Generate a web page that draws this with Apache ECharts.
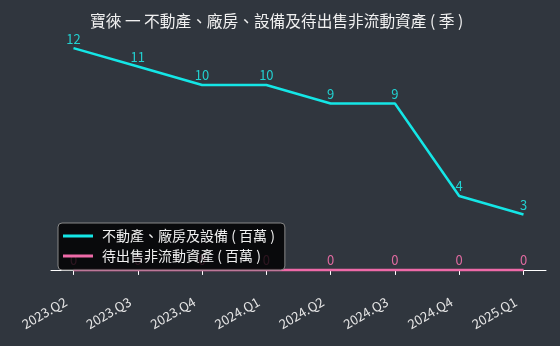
<!DOCTYPE html>
<html>
<head>
<meta charset="utf-8">
<script src="https://cdn.jsdelivr.net/npm/echarts@6/dist/echarts.min.js"></script>
<style>
  html, body { margin: 0; padding: 0; background: #30363e; }
  #chart { width: 560px; height: 346px; }
</style>
</head>
<body>
<div id="chart"></div>
<script>
// 季度與數值（百萬）
const quarters = ['2023.Q2', '2023.Q3', '2023.Q4', '2024.Q1', '2024.Q2', '2024.Q3', '2024.Q4', '2025.Q1']
const ppe = [12, 11, 10, 10, 9, 9, 4, 3]
const heldForSale = [0, 0, 0, 0, 0, 0, 0, 0]

const font = '"Noto Sans CJK TC", "Noto Sans", sans-serif'
const chart = echarts.init(document.getElementById('chart'), null, { renderer: 'canvas' })

const option = {
  backgroundColor: '#30363e',
  animation: false,
  title: {
    text: '寶徠 一 不動產、廠房、設備及待出售非流動資產 ( 季 )',
    left: 85,
    top: 8,
    textStyle: { color: '#f0f0f0', fontSize: 15.7, fontWeight: 'normal', fontFamily: font }
  },
  grid: { left: 51, right: 14, top: 37, bottom: 65 },
  legend: {
    left: 58,
    top: 223,
    orient: 'vertical',
    itemWidth: 30,
    itemHeight: 3,
    itemGap: 6,
    padding: [6, 10, 7, 5],
    backgroundColor: 'rgba(0,0,0,0.8)',
    borderColor: '#888',
    borderWidth: 1,
    borderRadius: 4,
    textStyle: { color: '#f0f0f0', fontSize: 14, fontFamily: font, padding: [0, 0, 0, 4] },
    data: [
      { name: '不動產、廠房及設備 ( 百萬 )', icon: 'rect' },
      { name: '待出售非流動資產 ( 百萬 )', icon: 'rect' }
    ]
  },
  xAxis: {
    type: 'value',
    min: -0.35,
    max: 7.35,
    splitLine: { show: false },
    axisLine: { show: true, lineStyle: { color: '#ffffff', width: 1 } },
    axisTick: { show: true, customValues: quarters.map((q, i) => i), length: 5, lineStyle: { color: '#ffffff' } },
    axisLabel: {
      customValues: quarters.map((q, i) => i),
      formatter: (v) => quarters[Math.round(v)],
      rotate: 30,
      color: '#e6e6e6',
      fontSize: 13,
      fontFamily: font,
      margin: 15,
      padding: [0, 9, 0, 0]
    }
  },
  yAxis: {
    type: 'value',
    min: -0.6,
    max: 12.6,
    show: false
  },
  series: [
    {
      name: '不動產、廠房及設備 ( 百萬 )',
      type: 'line',
      data: ppe.map((v, i) => [i, v]),
      symbol: 'circle',
      symbolSize: 0,
      showSymbol: true,
      z: 3,
      lineStyle: { color: '#14e6e6', width: 2.5 },
      itemStyle: { color: '#14e6e6' },
      label: {
        show: true,
        position: 'top',
        distance: 3,
        color: '#22d0d0',
        fontSize: 13,
        fontFamily: font,
        formatter: (p) => p.value[1]
      }
    },
    {
      name: '待出售非流動資產 ( 百萬 )',
      type: 'line',
      data: heldForSale.map((v, i) => [i, v]),
      symbol: 'circle',
      symbolSize: 0,
      showSymbol: true,
      z: 2,
      lineStyle: { color: '#ee6aa8', width: 2.5 },
      itemStyle: { color: '#ee6aa8' },
      label: {
        show: true,
        position: 'top',
        distance: 3,
        color: '#e06aa0',
        fontSize: 13,
        fontFamily: font,
        formatter: (p) => p.value[1]
      }
    }
  ]
}

chart.setOption(option)
</script>
</body>
</html>
